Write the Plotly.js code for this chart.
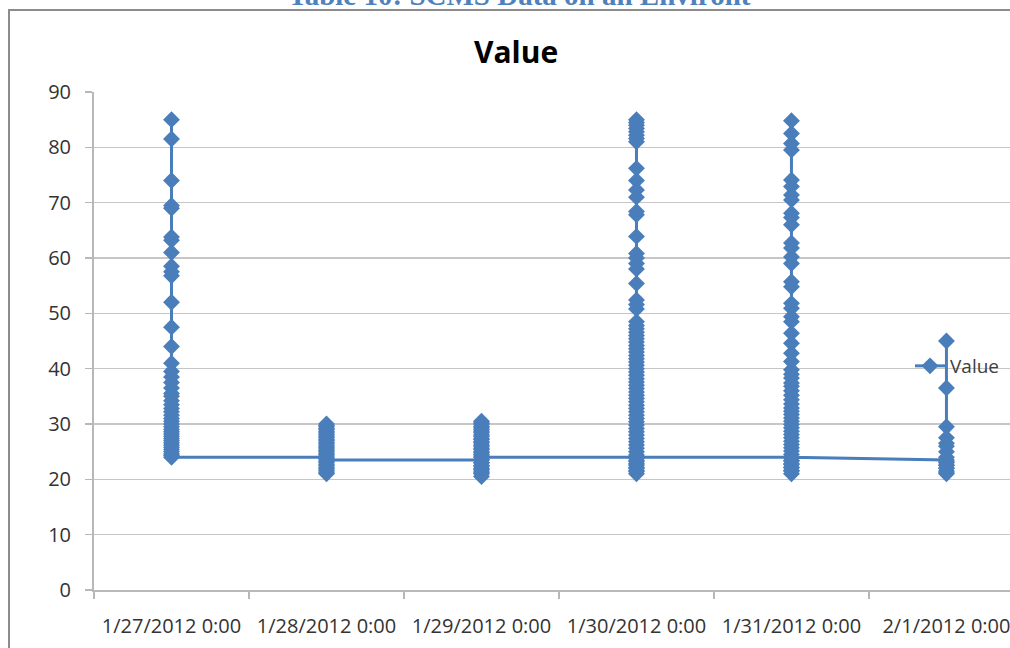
<!DOCTYPE html>
<html>
<head>
<meta charset="utf-8">
<script src="https://cdn.plot.ly/plotly-3.0.1.min.js"></script>
<style>
html, body { margin: 0; padding: 0; background: #ffffff; overflow: hidden; }
#chart { width: 1010px; height: 648px; }
</style>
</head>
<body>
<div id="chart"></div>
<script>
// Category (day) labels shown on the x axis
var categories = ['1/27/2012 0:00', '1/28/2012 0:00', '1/29/2012 0:00', '1/30/2012 0:00', '1/31/2012 0:00', '2/1/2012 0:00'];

// Values read per day (points plotted in order)
var day1Values = [85, 81.5, 74, 69.5, 69, 63.8, 63.2, 61, 58.5, 57.5, 56.8, 52, 47.5, 44, 41, 39.5, 38.5, 37.5, 36.5, 35.5, 35, 34.2, 33.5, 32.8, 32.2, 31.6, 31, 30.5, 30, 29.5, 29, 28.6, 28.2, 27.8, 27.4, 27, 26.6, 26.2, 25.8, 25.4, 25, 24.6, 24.3, 24];
var day2Values = [24, 24.5, 25, 25.5, 26, 26.5, 27, 27.5, 28, 28.5, 29, 29.5, 30, 29.7, 29.2, 28.7, 28.2, 27.7, 27.2, 26.7, 26.2, 25.7, 25.2, 24.7, 24.2, 23.7, 23.2, 22.7, 22.2, 21.7, 21.2, 21, 21.5, 22, 22.5, 23, 23.5];
var day3Values = [23.5, 23, 22.5, 22, 21.5, 21, 20.5, 21.2, 21.8, 22.4, 23, 23.6, 24.2, 24.8, 25.4, 26, 26.6, 27.2, 27.8, 28.4, 29, 29.6, 30.2, 30.5, 30, 29.3, 28.7, 28, 27.4, 26.8, 26.2, 25.6, 25, 24.5, 24];
var day4Values = [24, 23.4, 22.8, 22.2, 21.6, 21, 21.4, 22, 22.6, 23.2, 23.8, 24.4, 25, 25.6, 26.2, 26.8, 27.4, 28, 28.6, 29.2, 29.8, 30.4, 31, 31.6, 32.2, 32.8, 33.4, 34, 34.6, 35.2, 35.8, 36.4, 37, 37.6, 38.2, 38.8, 39.4, 40, 40.6, 41.2, 41.8, 42.4, 43, 43.6, 44.2, 44.8, 45.4, 46, 46.6, 47.2, 47.8, 48.5, 50.8, 51.6, 52.4, 55.4, 58, 59, 60, 60.8, 63.9, 67.8, 68.4, 71, 72.3, 74, 76.2, 81, 81.6, 82.2, 82.8, 83.4, 84, 84.5, 85, 24];
var day5Values = [24, 23.4, 22.8, 22.2, 21.6, 21, 21.5, 22.1, 22.7, 23.3, 23.9, 24.5, 25.1, 25.7, 26.3, 26.9, 27.5, 28.1, 28.7, 29.3, 29.9, 30.5, 31.1, 31.7, 32.3, 32.9, 33.6, 34.4, 35.2, 36, 36.8, 37.4, 38.3, 39, 39.8, 41.3, 42.8, 44.6, 46.4, 48.5, 49.4, 50.9, 51.8, 54.8, 55.7, 59, 60.2, 61.8, 62.7, 66, 67.3, 68.1, 70.5, 71.4, 72.9, 74.1, 79.5, 80.7, 82.5, 84.8, 24];
var day6Values = [23.5, 23, 22.5, 22, 21.5, 21, 21.3, 22, 22.6, 23.2, 24, 25, 26, 26.5, 27.5, 29.5, 36.5, 45];

var seriesName = 'Value';
var chartTitle = 'Value';
var captionText = 'Table 10: SCMS Data on an Environt';

// Build x/y arrays from the per-day lists
var perDay = [day1Values, day2Values, day3Values, day4Values, day5Values, day6Values];
var xs = [], ys = [];
perDay.forEach(function (vals, i) {
  vals.forEach(function (v) { xs.push(categories[i]); ys.push(v); });
});

var blue = '#4a7ebb';

var trace = {
  type: 'scatter',
  mode: 'lines+markers',
  name: seriesName,
  x: xs,
  y: ys,
  line: { color: blue, width: 3 },
  marker: { symbol: 'diamond', size: 13, color: blue, line: { width: 0 } },
  hoverinfo: 'x+y'
};

// plot area: x 94..1010, y 92..590
var L = 94, T = 92, B = 58, W = 1010, H = 648;
var pw = W - L, ph = H - T - B;
function px(x) { return (x - L) / pw; }
function py(y) { return (H - B - y) / ph; }

var layout = {
  width: W,
  height: H,
  margin: { l: L, r: 0, t: T, b: B, pad: 0 },
  paper_bgcolor: '#ffffff',
  plot_bgcolor: '#ffffff',
  font: { family: 'Open Sans, sans-serif', color: '#404040' },
  title: {
    text: chartTitle,
    font: { family: 'Open Sans, sans-serif', size: 30, color: '#000000', weight: 'bold' },
    x: 516 / W, xanchor: 'center', xref: 'container',
    y: 1 - 52 / H, yanchor: 'middle', yref: 'container'
  },
  xaxis: {
    type: 'category',
    categoryorder: 'array',
    categoryarray: categories,
    range: [-0.5, 5.41],
    tickson: 'boundaries',
    ticks: 'outside',
    ticklen: 7,
    tickwidth: 1.5,
    tickcolor: '#b8b8b8',
    showline: true,
    linecolor: '#b8b8b8',
    linewidth: 2,
    showgrid: false,
    zeroline: false,
    tickfont: { size: 20, color: '#333333' },
    ticklabelstandoff: 17,
    fixedrange: true
  },
  yaxis: {
    range: [0, 90],
    dtick: 10,
    tick0: 0,
    ticks: 'outside',
    ticklen: 7,
    tickwidth: 1.5,
    tickcolor: '#b8b8b8',
    showline: true,
    linecolor: '#b8b8b8',
    linewidth: 2,
    showgrid: true,
    gridcolor: '#c6c6c6',
    gridwidth: 1.5,
    zeroline: false,
    tickfont: { size: 20, color: '#333333' },
    ticklabelstandoff: 10,
    fixedrange: true
  },
  showlegend: true,
  legend: {
    x: px(910), xanchor: 'left',
    y: py(366), yanchor: 'middle',
    bgcolor: 'rgba(0,0,0,0)',
    borderwidth: 0,
    font: { size: 19, color: '#404040' }
  },
  shapes: [
    { type: 'rect', xref: 'paper', yref: 'paper', layer: 'above',
      x0: px(9), x1: px(1040), y0: py(700), y1: py(10),
      line: { color: '#8c8c8c', width: 2 }, fillcolor: 'rgba(0,0,0,0)' }
  ],
  annotations: [
    { text: captionText, xref: 'paper', yref: 'paper',
      x: px(519), xanchor: 'center', y: py(13), yanchor: 'bottom',
      showarrow: false,
      font: { family: 'Liberation Serif, serif', size: 29, color: '#4f81bd', weight: 'bold' } }
  ]
};

Plotly.newPlot('chart', [trace], layout, { displayModeBar: false, staticPlot: true });
</script>
</body>
</html>
